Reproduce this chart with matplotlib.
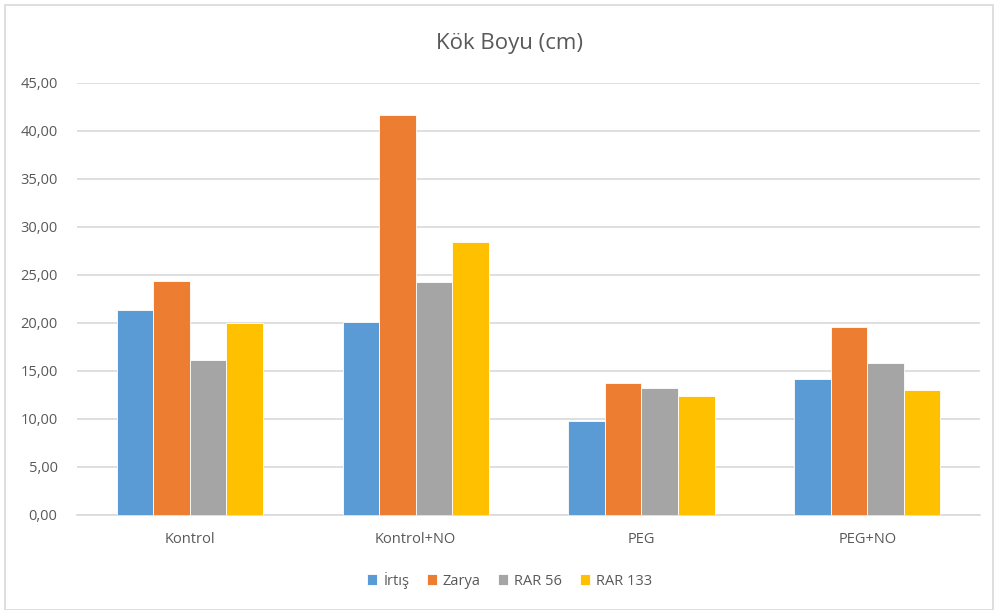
import matplotlib
matplotlib.use("Agg")
import matplotlib.pyplot as plt
import numpy as np
from matplotlib.patches import Rectangle

categories = ["Kontrol", "Kontrol+NO", "PEG", "PEG+NO"]
series_names = ["İrtış", "Zarya", "RAR 56", "RAR 133"]
irtis = [21.35, 20.07, 9.79, 14.20]
zarya = [24.35, 41.62, 13.75, 19.60]
rar56 = [16.15, 24.24, 13.20, 15.87]
rar133 = [19.98, 28.42, 12.43, 12.99]
yticks = [0, 5, 10, 15, 20, 25, 30, 35, 40, 45]
colors = ["#5B9BD5", "#ED7D31", "#A5A5A5", "#FFC000"]

plt.rcParams['font.family'] = ['Open Sans', 'DejaVu Sans']

fig = fig = plt.figure(figsize=(9.95, 6.1), dpi=100)
ax = fig.add_axes([0.0774, 0.156, 0.9076, 0.708])

x = np.arange(len(categories))
w = 0.162
data = [irtis, zarya, rar56, rar133]
for i, (vals, name, c) in enumerate(zip(data, series_names, colors)):
    ax.bar(x + (i - 1.5) * w, vals, width=w, color=c, label=name,
           edgecolor="white", linewidth=0.6, zorder=3)

ax.set_xlim(-0.5, len(categories) - 0.5)
ax.set_ylim(0, 45)
ax.set_yticks(yticks)
ax.set_yticklabels([f"{v:.2f}".replace(".", ",") for v in yticks])
ax.set_xticks(x)
ax.set_xticklabels(categories)
ax.tick_params(axis='both', length=0, labelsize=10.5, colors="#595959")
ax.tick_params(axis='y', pad=14)
ax.tick_params(axis='x', pad=12)
ax.grid(axis='y', color="#D9D9D9", linewidth=1.2, zorder=0)
for s in ["top", "right", "left"]:
    ax.spines[s].set_visible(False)
ax.spines["bottom"].set_color("#D9D9D9")
ax.spines["bottom"].set_linewidth(1.2)

fig.text(0.512, 0.928, "Kök Boyu (cm)", ha="center", va="center",
         fontsize=16, color="#595959")

leg = fig.legend(loc="center", bbox_to_anchor=(0.512, 0.049), ncol=4,
                 frameon=False, fontsize=10.5, handlelength=0.7, handleheight=0.7,
                 handletextpad=0.4, columnspacing=1.2)
for t in leg.get_texts():
    t.set_color("#595959")

fig.patches.append(Rectangle((0.005, 0.0), 0.993, 0.992, transform=fig.transFigure,
                             fill=False, edgecolor="#D9D9D9", linewidth=1.2))

fig.savefig("out.png", dpi=100)
